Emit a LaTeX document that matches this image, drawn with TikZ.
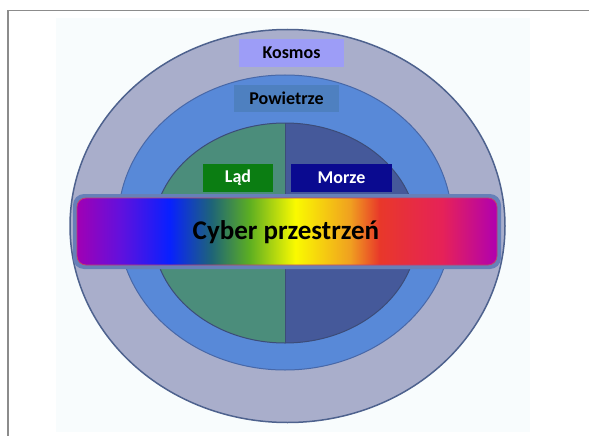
\documentclass[tikz,border=0pt]{standalone}
\usepackage{fontspec}
\setmainfont{Carlito}
\definecolor{cMag}{HTML}{A000B4}
\definecolor{cViol}{HTML}{6410DC}
\definecolor{cBlue}{HTML}{0820FF}
\definecolor{cTeal}{HTML}{1E6478}
\definecolor{cGreen}{HTML}{5CAE22}
\definecolor{cYel}{HTML}{FAFA00}
\definecolor{cOr}{HTML}{F0A020}
\definecolor{cRed}{HTML}{E8382A}
\definecolor{cPink}{HTML}{E62258}
\definecolor{cMag2}{HTML}{B000B0}
\definecolor{outerfill}{HTML}{A9AECB}
\definecolor{outerline}{HTML}{4E628E}
\definecolor{midfill}{HTML}{5889D8}
\definecolor{midline}{HTML}{4868A8}
\definecolor{landfill}{HTML}{4B8D7B}
\definecolor{seafill}{HTML}{45599A}
\definecolor{innerline}{HTML}{3C4C78}
\definecolor{kosmosbox}{HTML}{9D9DF7}
\definecolor{airbox}{HTML}{4E80C0}
\definecolor{landbox}{HTML}{0B7D12}
\definecolor{seabox}{HTML}{0A0A90}
\definecolor{bandline}{HTML}{6680B8}
\definecolor{bandedge}{HTML}{C0406E}
\definecolor{paper}{HTML}{F8FCFD}
\pgfdeclarehorizontalshading{rainbow}{100bp}{color(0bp)=(cMag); color(25bp)=(cMag); color(30bp)=(cViol); color(36bp)=(cBlue); color(41bp)=(cTeal); color(45.5bp)=(cGreen); color(51bp)=(cYel); color(57.5bp)=(cOr); color(61bp)=(cRed); color(68.5bp)=(cPink); color(75bp)=(cMag2); color(100bp)=(cMag2)}
\tikzset{
  labelbox/.style={draw=none, font=\bfseries\fontsize{18}{20}\selectfont, inner sep=0pt, anchor=center},
}
\begin{document}
\begin{tikzpicture}[x=1pt,y=-1pt]
\useasboundingbox (0,0) rectangle (589,436);
% paper / frame
\fill[paper] (56,18) rectangle (530,432);
\draw[gray!90, line width=1.4pt] (8,436) -- (8,10.5) -- (589,10.5);
% rings
\draw[fill=outerfill, draw=outerline, line width=1.5pt] (287.5,226) ellipse [x radius=217.5, y radius=196.5];
\draw[fill=midfill, draw=midline, line width=1pt] (285,222.5) ellipse [x radius=167, y radius=147.5];
\begin{scope}
  \clip (285,233) ellipse [x radius=132, y radius=110];
  \fill[landfill] (150,120) rectangle (285,346);
  \fill[seafill] (285,120) rectangle (420,346);
  \draw[innerline, line width=1pt] (285,120) -- (285,346);
\end{scope}
\draw[draw=innerline, line width=1pt] (285,233) ellipse [x radius=132, y radius=110];
% label boxes
\fill[kosmosbox] (239,39) rectangle (344,67);
\node[labelbox, text=black] (kosmos) at (291.5,53) {Kosmos};
\fill[airbox] (234,85) rectangle (339,112);
\node[labelbox, text=black] (air) at (286.5,98.5) {Powietrze};
\fill[landbox] (203,164) rectangle (273,192);
\node[labelbox, text=white] (land) at (238,178) {Ląd};
\fill[seabox] (291,164) rectangle (392,192);
\node[labelbox, text=white] (sea) at (341.5,178) {Morze};
% cyber band
\fill[bandline, rounded corners=11pt] (73,194) rectangle (501,269);
\shade[shading=rainbow, draw=bandedge, line width=0.8pt, rounded corners=9pt] (77,198) rectangle (497,265);
\node[font=\bfseries\fontsize{27}{30}\selectfont, text=black, inner sep=0pt] (cyber) at (286,232) {Cyber przestrzeń};
\end{tikzpicture}
\end{document}
